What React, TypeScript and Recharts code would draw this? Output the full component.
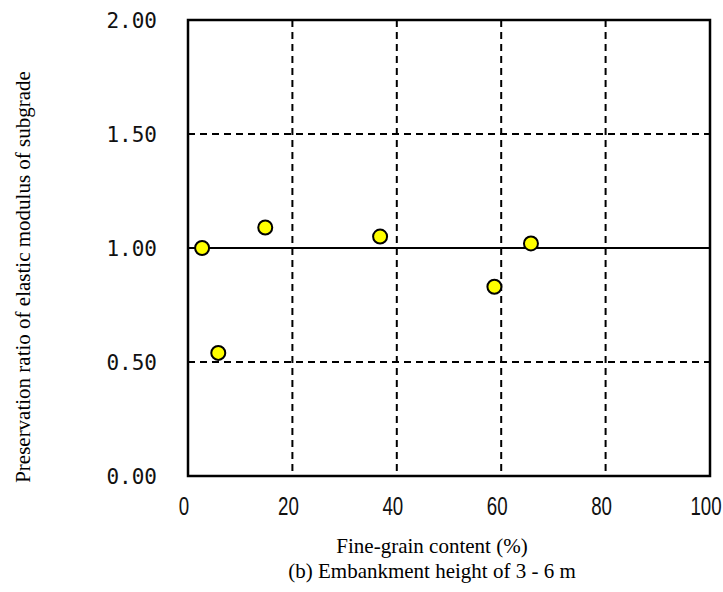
import React from "react";
import {
  ScatterChart,
  Scatter,
  XAxis,
  YAxis,
  CartesianGrid,
  ReferenceLine,
  ReferenceArea,
} from "recharts";

const fineContent = [2.7, 5.8, 14.8, 36.8, 58.7, 65.7];
const preservationRatio = [1.0, 0.54, 1.09, 1.05, 0.83, 1.02];
const xTicks = [0, 20, 40, 60, 80, 100];
const yTicks = [0, 0.5, 1.0, 1.5, 2.0];

const data = fineContent.map((x, i) => ({ x, y: preservationRatio[i] }));

const YTick = (props: any) => {
  const { x, y, payload } = props;
  return (
    <text
      x={x - 23}
      y={y}
      dy={7.5}
      textAnchor="end"
      fontFamily="'DejaVu Sans Mono', monospace"
      fontSize={21}
      fill="#111"
    >
      {Number(payload.value).toFixed(2)}
    </text>
  );
};

const XTick = (props: any) => {
  const { x, y, payload } = props;
  const tx = x - 4;
  const ty = y + 31;
  return (
    <text
      transform={`translate(${tx}, ${ty}) scale(0.72, 1)`}
      textAnchor="middle"
      fontFamily="'Liberation Sans', Arial, sans-serif"
      fontSize={26}
      fill="#111"
    >
      {payload.value}
    </text>
  );
};

const XLabel = (props: any) => {
  const { viewBox } = props;
  const cx = viewBox.x + viewBox.width / 2;
  return (
    <g>
      <text
        x={cx - 17}
        y={viewBox.y + 77}
        textAnchor="middle"
        fontFamily="'Liberation Serif', 'Times New Roman', serif"
        fontSize={21}
        fill="#000"
      >
        Fine-grain content (%)
      </text>
      <text
        x={cx - 17}
        y={viewBox.y + 102}
        textAnchor="middle"
        fontFamily="'Liberation Serif', 'Times New Roman', serif"
        fontSize={21}
        fill="#000"
      >
        (b) Embankment height of 3 - 6 m
      </text>
    </g>
  );
};

const YLabel = (props: any) => {
  const { viewBox } = props;
  const cy = viewBox.y + viewBox.height / 2;
  const x = 30;
  const yy = cy + 29;
  return (
    <text
      x={x}
      y={yy}
      transform={`rotate(-90, ${x}, ${yy})`}
      textAnchor="middle"
      fontFamily="'Liberation Serif', 'Times New Roman', serif"
      fontSize={21}
      fill="#000"
    >
      Preservation ratio of elastic modulus of subgrade
    </text>
  );
};

const Dot = (props: any) => {
  const { cx, cy } = props;
  return <circle cx={cx} cy={cy} r={7} fill="#ffff00" stroke="#000" strokeWidth={2} />;
};

export default function App() {
  return (
    <div style={{ position: "absolute", left: 0, top: 0, background: "#fff" }}>
      <ScatterChart
        width={723}
        height={592}
        margin={{ top: 20, right: 13, bottom: 76, left: 128 }}
      >
        <CartesianGrid
          stroke="#000"
          strokeWidth={2}
          strokeDasharray="7 5"
          verticalValues={xTicks}
          horizontalValues={yTicks}
        />
        <XAxis
          type="number"
          dataKey="x"
          domain={[0, 100]}
          ticks={xTicks}
          height={40}
          axisLine={false}
          tickLine={false}
          tick={<XTick />}
          interval={0}
          label={<XLabel />}
        />
        <YAxis
          type="number"
          dataKey="y"
          domain={[0, 2]}
          ticks={yTicks}
          width={60}
          axisLine={false}
          tickLine={false}
          tick={<YTick />}
          interval={0}
          label={<YLabel />}
        />
        <ReferenceLine y={1} stroke="#000" strokeWidth={2} />
        <ReferenceArea
          x1={0}
          x2={100}
          y1={0}
          y2={2}
          fill="none"
          stroke="#000"
          strokeWidth={2.5}
          ifOverflow="visible"
        />
        <Scatter data={data} shape={<Dot />} isAnimationActive={false} />
      </ScatterChart>
    </div>
  );
}
